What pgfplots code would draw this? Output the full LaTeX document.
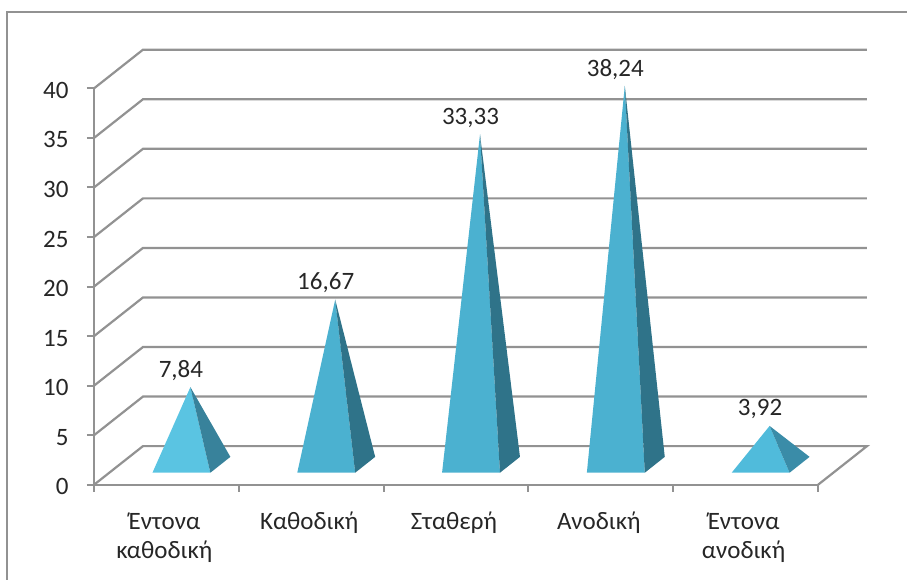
\documentclass[border=0pt]{standalone}
\usepackage{pgfplots}
\pgfplotsset{compat=1.18}
\usepackage{pgfplotstable}
\usepackage{fontspec}
\setmainfont{Carlito}
\definecolor{rule}{HTML}{929292}
\definecolor{ink}{HTML}{262626}
\definecolor{faceA}{HTML}{5AC4E2}
\definecolor{sideA}{HTML}{38829B}
\definecolor{faceB}{HTML}{4BB1D0}
\definecolor{sideB}{HTML}{2F7389}
\definecolor{faceC}{HTML}{50BBDB}
\definecolor{sideC}{HTML}{3A8CA8}

% Category position and value of each pyramid, with the printed label
\pgfplotstableread{
x   v      lab
0.5 7.84   7,84
1.5 16.67  16,67
2.5 33.33  33,33
3.5 38.24  38,24
4.5 3.92   3,92
}\pyramids

\newcommand{\toprow}{\rule{0pt}{20.3pt}}

\begin{document}
\fontsize{25}{29}\selectfont
\begin{tikzpicture}[x=1pt,y=1pt]
% Page extent and chart frame
\path[use as bounding box] (-94,-95.2) rectangle (813,484.8);
\draw[rule,line width=2pt] (-86.5,-96) -- (-86.5,472.3) -- (814,472.3);
\begin{axis}[
  at={(0,0)}, anchor=south west,
  x=144.8pt, y=9.91pt,
  xmin=0, xmax=5, ymin=0, ymax=40,
  clip=false,
  axis lines=left,
  axis line style={-, draw=rule, line width=2pt},
  tick align=outside,
  major tick length=7pt,
  tick style={draw=rule, line width=2pt},
  xtick={0,1,2,3,4,5},
  xticklabels={},
  ytick={0,5,...,40},
  extra x ticks={0.5,1.5,2.5,3.5,4.5},
  extra x tick labels={{\toprow Έντονα\\καθοδική},{Καθοδική},{Σταθερή},{Ανοδική},{\toprow Έντονα\\ανοδική}},
  extra x tick style={major tick length=0pt, tick style={draw=none}},
  x tick label style={align=center, anchor=north, inner sep=0pt, xshift=-2pt, yshift=-24pt,
    text=ink, execute at begin node=\strut},
  y tick label style={text=ink, xshift=-10pt, yshift=-2pt},
  /pgf/number format/assume math mode=true,
]
% Back wall rules, each running from the front edge to the rear plane
\pgfplotsset{wall/.style={draw=rule, line width=2.2pt, mark=none, forget plot}}
\addplot[wall] coordinates {(0,40) (0.338,43.9) (5.338,43.9)};
\addplot[wall] coordinates {(0,35) (0.338,38.9) (5.338,38.9)};
\addplot[wall] coordinates {(0,30) (0.338,33.9) (5.338,33.9)};
\addplot[wall] coordinates {(0,25) (0.338,28.9) (5.338,28.9)};
\addplot[wall] coordinates {(0,20) (0.338,23.9) (5.338,23.9)};
\addplot[wall] coordinates {(0,15) (0.338,18.9) (5.338,18.9)};
\addplot[wall] coordinates {(0,10) (0.338,13.9) (5.338,13.9)};
\addplot[wall] coordinates {(0,5) (0.338,8.9) (5.338,8.9)};
\addplot[wall] coordinates {(0,0) (0.338,3.9) (5.338,3.9) (5,0)};
% Pyramids: apex at the value, base corners around the category centre
\pgfplotsset{pyr/.style={draw=none, mark=none, forget plot, xshift=24pt, yshift=20pt}}
\addplot[pyr, fill=faceA] coordinates {(0.5,7.84) (0.238,-0.8) (0.638,-0.8)} --cycle;
\addplot[pyr, fill=sideA] coordinates {(0.5,7.84) (0.638,-0.8) (0.776,0.8)} --cycle;
\addplot[pyr, fill=faceB] coordinates {(1.5,16.67) (1.238,-0.8) (1.638,-0.8)} --cycle;
\addplot[pyr, fill=sideB] coordinates {(1.5,16.67) (1.638,-0.8) (1.776,0.8)} --cycle;
\addplot[pyr, fill=faceB] coordinates {(2.5,33.33) (2.238,-0.8) (2.638,-0.8)} --cycle;
\addplot[pyr, fill=sideB] coordinates {(2.5,33.33) (2.638,-0.8) (2.776,0.8)} --cycle;
\addplot[pyr, fill=faceB] coordinates {(3.5,38.24) (3.238,-0.8) (3.638,-0.8)} --cycle;
\addplot[pyr, fill=sideB] coordinates {(3.5,38.24) (3.638,-0.8) (3.776,0.8)} --cycle;
\addplot[pyr, fill=faceC] coordinates {(4.5,3.92) (4.238,-0.8) (4.638,-0.8)} --cycle;
\addplot[pyr, fill=sideC] coordinates {(4.5,3.92) (4.638,-0.8) (4.776,0.8)} --cycle;
% Value labels above the apexes
\addplot[draw=none, mark=none, forget plot,
  point meta=explicit symbolic,
  nodes near coords,
  every node near coord/.style={anchor=center, text=ink, xshift=14.5pt, yshift=36.5pt, inner sep=0pt},
] table[x=x, y=v, meta=lab] {\pyramids};
\end{axis}
\end{tikzpicture}
\end{document}
